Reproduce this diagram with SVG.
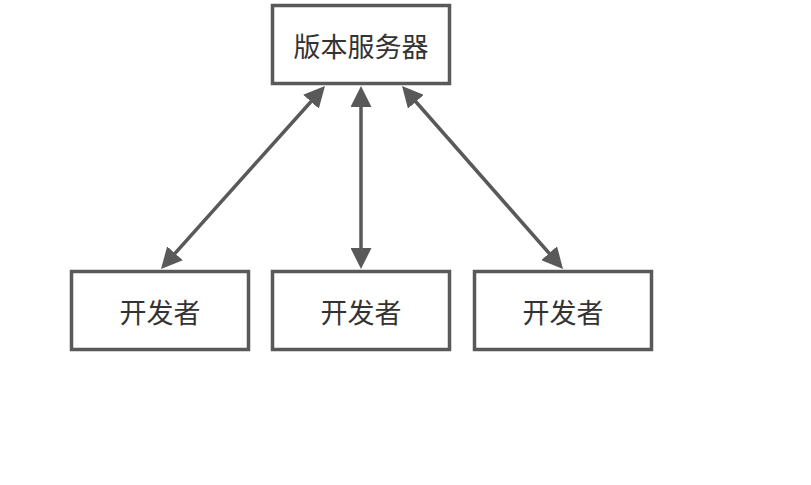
<svg xmlns="http://www.w3.org/2000/svg" width="811" height="485" viewBox="0 0 811 485">
<style>
.box{fill:#ffffff;stroke:#595959;stroke-width:3.5}
.lbl{font-family:"Noto Sans CJK SC","Noto Sans",sans-serif;font-size:27px;fill:#333333;text-anchor:middle;dominant-baseline:central}
.conn{stroke:#595959;stroke-width:3.5;fill:none;marker-start:url(#ah);marker-end:url(#ah)}
</style>
<defs>
<marker id="ah" markerUnits="userSpaceOnUse" markerWidth="21" markerHeight="21" refX="16" refY="10.5" orient="auto-start-reverse" viewBox="0 0 21 21">
<path d="M0,0 L21,10.5 L0,21 z" fill="#595959"/>
</marker>
</defs>
<rect width="811" height="485" fill="#ffffff"/>
<g id="server">
<rect class="box" x="272.5" y="5.5" width="177" height="78"/>
<text class="lbl" x="361" y="45">版本服务器</text>
</g>
<g id="dev1">
<rect class="box" x="71.5" y="271.5" width="177" height="78"/>
<text class="lbl" x="160" y="311">开发者</text>
</g>
<g id="dev2">
<rect class="box" x="272.5" y="271.5" width="177" height="78"/>
<text class="lbl" x="361" y="311">开发者</text>
</g>
<g id="dev3">
<rect class="box" x="474.5" y="271.5" width="177" height="78"/>
<text class="lbl" x="563" y="311">开发者</text>
</g>
<g id="connectors">
<line class="conn" x1="321.66" y1="89.72" x2="164.34" y2="265.28"/>
<line class="conn" x1="361" y1="91" x2="361" y2="264"/>
<line class="conn" x1="405.3" y1="89.75" x2="559.7" y2="265.25"/>
</g>
</svg>
